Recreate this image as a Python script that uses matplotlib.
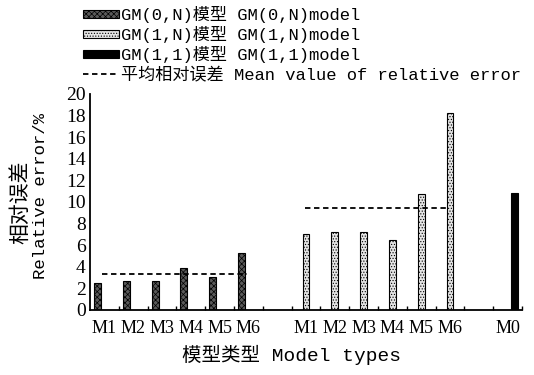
import matplotlib
matplotlib.use("Agg")
import matplotlib.pyplot as plt
from matplotlib.patches import Patch
from matplotlib.lines import Line2D

# ---- data ----
categories = ["M1", "M2", "M3", "M4", "M5", "M6", "", "M1", "M2", "M3", "M4", "M5", "M6", "", "M0"]
gm0n_values = [2.52, 2.67, 2.67, 3.86, 3.07, 5.28]      # GM(0,N) model, M1..M6
gm1n_values = [7.06, 7.18, 7.21, 6.44, 10.76, 18.22]    # GM(1,N) model, M1..M6
gm11_values = [10.86]                                   # GM(1,1) model, M0
mean_gm0n = 3.35
mean_gm1n = 9.48
yticks = list(range(0, 21, 2))

series_labels = ["GM(0,N)模型 GM(0,N)model", "GM(1,N)模型 GM(1,N)model",
                 "GM(1,1)模型 GM(1,1)model", "平均相对误差 Mean value of relative error"]

plt.rcParams['hatch.linewidth'] = 0.5
W, H = 534, 375
fig = plt.figure(figsize=(W / 100, H / 100), dpi=100)
ax = fig.add_axes([90 / W, 1 - 310 / H, (522 - 90) / W, (310 - 94) / H])

bw = 0.24
g0_idx = [i for i in range(6)]
g1_idx = [i + 7 for i in range(6)]
g2_idx = [14]

dark = "#5a5a5a"
light = "#e4e4e4"
ax.bar([i - bw for i in g0_idx], gm0n_values, width=bw, facecolor=dark,
       edgecolor="black", hatch="xxxxxx", linewidth=0.8, zorder=2)
ax.bar(g1_idx, gm1n_values, width=bw, facecolor=light,
       edgecolor="black", hatch="......", linewidth=0.8, zorder=2)
ax.bar([i + bw for i in g2_idx], gm11_values, width=bw, facecolor="black",
       edgecolor="black", linewidth=0.8, zorder=2)

# mean lines
ax.plot([g0_idx[0] - 0.1, g0_idx[-1] - 0.06], [mean_gm0n] * 2, ls=(0, (3, 2)),
        color="black", lw=1.3, zorder=3)
ax.plot([g1_idx[0] - 0.05, g1_idx[-1] - 0.07], [mean_gm1n] * 2, ls=(0, (3, 2)),
        color="black", lw=1.3, zorder=3)

ax.set_xlim(-0.5, len(categories) - 0.5)
ax.set_ylim(0, 20)
ax.set_yticks(yticks)
ax.set_yticklabels([str(v) for v in yticks], family="Liberation Serif", fontsize=14)
ax.set_xticks(range(len(categories)))
ax.set_xticklabels(categories, family="Liberation Serif", fontsize=13)
ax.set_xticks([i + 0.5 for i in range(len(categories))], minor=True)
ax.tick_params(axis="x", which="major", length=0, pad=7)
ax.tick_params(axis="x", which="minor", length=3, direction="in", width=1)
ax.tick_params(axis="y", length=0, pad=3)
for s in ["top", "right"]:
    ax.spines[s].set_visible(False)
ax.spines["left"].set_linewidth(1.3)
ax.spines["bottom"].set_linewidth(1.3)

# axis labels
fig.text(20 / W, 1 - 202 / H, "相对误差", rotation=90, ha="center", va="center",
         family=["Noto Sans CJK SC"], fontsize=15)
fig.text(41 / W, 1 - 196 / H, "Relative error/%", rotation=90, ha="center", va="center",
         family=["Liberation Mono"], fontsize=12.5)
fig.text(292 / W, 1 - 355 / H, "模型类型 Model types", ha="center", va="center",
         family=["Liberation Mono", "Noto Sans CJK SC"], fontsize=14)

# legend
handles = [
    Patch(facecolor=dark, edgecolor="black", hatch="xxxxxx", linewidth=0.8),
    Patch(facecolor=light, edgecolor="black", hatch="......", linewidth=0.8),
    Patch(facecolor="black", edgecolor="black", linewidth=0.8),
    Line2D([0], [0], color="black", ls=(0, (3, 2)), lw=1.3),
]
fig.legend(handles, series_labels, loc="upper left", bbox_to_anchor=(80 / W, 1 - 3 / H),
           frameon=False, prop={"family": ["Liberation Mono", "Noto Sans CJK SC"], "size": 12.3},
           handlelength=2.1, handleheight=0.35, handletextpad=0.1, labelspacing=0.17,
           borderpad=0.2, borderaxespad=0)

fig.savefig("out.png", dpi=100)
